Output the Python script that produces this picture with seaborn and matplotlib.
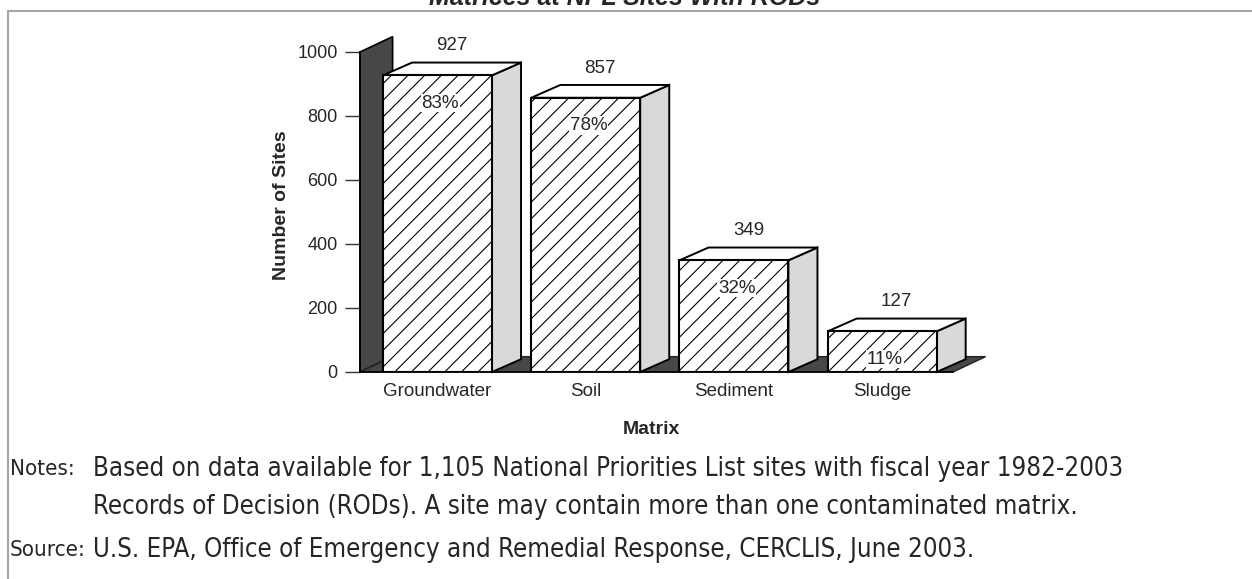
import matplotlib
matplotlib.use("Agg")
import matplotlib.pyplot as plt
import seaborn as sns
from matplotlib.patches import Polygon
from matplotlib.lines import Line2D

# data
categories = ["Groundwater", "Soil", "Sediment", "Sludge"]
sites = [927, 857, 349, 127]
percents = [83, 78, 32, 11]
yticks = [0, 200, 400, 600, 800, 1000]

title = "Matrices at NPL Sites With RODs"
notes_label = "Notes:"
notes_lines = ["Based on data available for 1,105 National Priorities List sites with fiscal year 1982-2003",
               "Records of Decision (RODs). A site may contain more than one contaminated matrix."]
source_label = "Source:"
source_text = "U.S. EPA, Office of Emergency and Remedial Response, CERCLIS, June 2003."

sns.set_style("white")
plt.rcParams["font.family"] = ["Liberation Sans", "DejaVu Sans"]
plt.rcParams["hatch.linewidth"] = 0.8

W, H = 1252, 579
fig = plt.figure(figsize=(W / 100, H / 100), dpi=100)
ax = fig.add_axes([360 / W, (H - 372) / H, 593 / W, 320 / H])

sns.barplot(x=categories, y=sites, color="white", saturation=1, edgecolor="black",
            linewidth=1.5, width=0.735, hatch="//", ax=ax, zorder=3)
bars = list(ax.patches)

x0, x1 = -0.523, 3.478
ax.set_xlim(x0, x1)
ax.set_ylim(0, 1000)

# 3d wall and floor
dxw, dyw = 0.22, 48
ax.add_patch(Polygon([(x0, 0), (x0, 1000), (x0 + dxw, 1000 + dyw), (x0 + dxw, dyw)],
                     closed=True, fc="#474747", ec="black", lw=1.2, zorder=1, clip_on=False))
ax.add_patch(Polygon([(x0, 0), (x1, 0), (x1 + dxw, dyw), (x0 + dxw, dyw)],
                     closed=True, fc="#474747", ec="#222222", lw=1.0, zorder=1, clip_on=False))

# bar sides, tops and labels
dxb, dyb = 0.196, 40
for bar, v, p in zip(bars, sites, percents):
    xl = bar.get_x()
    w = bar.get_width()
    h = bar.get_height()
    xr = xl + w
    ax.add_patch(Polygon([(xr, 0), (xr, h), (xr + dxb, h + dyb), (xr + dxb, dyb)],
                         closed=True, fc="#d9d9d9", ec="black", lw=1.4, zorder=2.9, clip_on=False))
    ax.add_patch(Polygon([(xl, h), (xr, h), (xr + dxb, h + dyb), (xl + dxb, h + dyb)],
                         closed=True, fc="white", ec="black", lw=1.4, zorder=2.9, clip_on=False))
    ax.annotate(f"{v}", xy=(xl + w / 2 + dxb / 2, h + dyb), xytext=(0, 6),
                textcoords="offset points", ha="center", va="bottom", fontsize=13.5,
                family=["Liberation Sans", "DejaVu Sans"], annotation_clip=False)
    ax.annotate(f"{p}%", xy=(xl + w / 2, h), xytext=(2, -20), textcoords="offset points",
                ha="center", va="center", fontsize=13.5, zorder=4,
                family=["Liberation Sans", "DejaVu Sans"],
                bbox=dict(fc="white", ec="none", pad=0.6))

sns.despine(ax=ax)
for s in ["left", "bottom"]:
    ax.spines[s].set_color("black")
    ax.spines[s].set_linewidth(1.2)
ax.set_yticks(yticks)
ax.tick_params(axis="y", left=True, length=11, width=1, direction="out", pad=5,
               labelsize=13, color="#333333")
ax.tick_params(axis="x", bottom=False, length=0, pad=8, labelsize=13.5)

ax.set_xlabel("Matrix", fontsize=14, fontweight="bold")
ax.xaxis.set_label_coords(0.492, -0.153)
ax.set_ylabel("Number of Sites", fontsize=14, fontweight="bold")
ax.yaxis.set_label_coords(-0.118, 0.52)

fig.text(625 / W, 1 - 5 / H, title, ha="center", va="baseline", fontsize=18,
         fontweight="bold", fontstyle="italic")

# frame
fig.add_artist(Line2D([8 / W, 1], [1 - 10.5 / H] * 2, color="#a6a6a6", lw=1.5,
                      transform=fig.transFigure))
fig.add_artist(Line2D([8 / W] * 2, [0, 1 - 10.5 / H], color="#a6a6a6", lw=1.5,
                      transform=fig.transFigure))

# notes
nf = dict(family=["DejaVu Sans"], fontstretch="condensed", va="center")
lab_size = 16
t_notes = fig.text(10 / W, 1 - 469 / H, notes_label, fontsize=lab_size, **nf)
t_source = fig.text(10 / W, 1 - 550 / H, source_label, fontsize=lab_size, **nf)
fig.canvas.draw()
body_x = max(78, t_source.get_window_extent().x1 + 7)
body = [
    fig.text(body_x / W, 1 - 469 / H, notes_lines[0], fontsize=18, **nf),
    fig.text(body_x / W, 1 - 507 / H, notes_lines[1], fontsize=18, **nf),
    fig.text(body_x / W, 1 - 550 / H, source_text, fontsize=18, **nf),
]
fig.canvas.draw()
scale = (1230 - body_x) / body[0].get_window_extent().width
for t in body:
    t.set_fontsize(min(18 * scale, 18.5))

fig.savefig("out.png", dpi=100)
